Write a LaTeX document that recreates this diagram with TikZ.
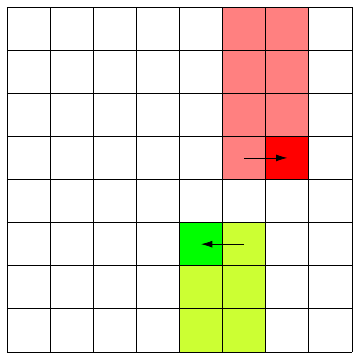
\documentclass[tikz,border=0pt]{standalone}
\usetikzlibrary{arrows.meta}
\definecolor{lightred}{RGB}{255,128,128}
\definecolor{limeish}{RGB}{204,255,51}
\tikzset{gridline/.style={black,line width=0.6pt},
  move/.style={-{Latex[length=2.6mm,width=1.6mm]},line width=0.5pt}}
\begin{document}
\begin{tikzpicture}[x=1cm,y=1cm]
\useasboundingbox (-0.162,-0.186) rectangle (8.186,8.162);
\fill[lightred] (5,4) rectangle (7,8);
\fill[red] (6,4) rectangle (7,5);
\fill[limeish] (4,0) rectangle (6,3);
\fill[green] (4,2) rectangle (5,3);
\draw[gridline] (0,0) grid (8,8);
\coordinate (r1) at (5.5,4.5);
\coordinate (r2) at (6.5,4.5);
\coordinate (g1) at (5.5,2.5);
\coordinate (g2) at (4.5,2.5);
\draw[move] (r1) -- (r2);
\draw[move] (g1) -- (g2);
\end{tikzpicture}
\end{document}
